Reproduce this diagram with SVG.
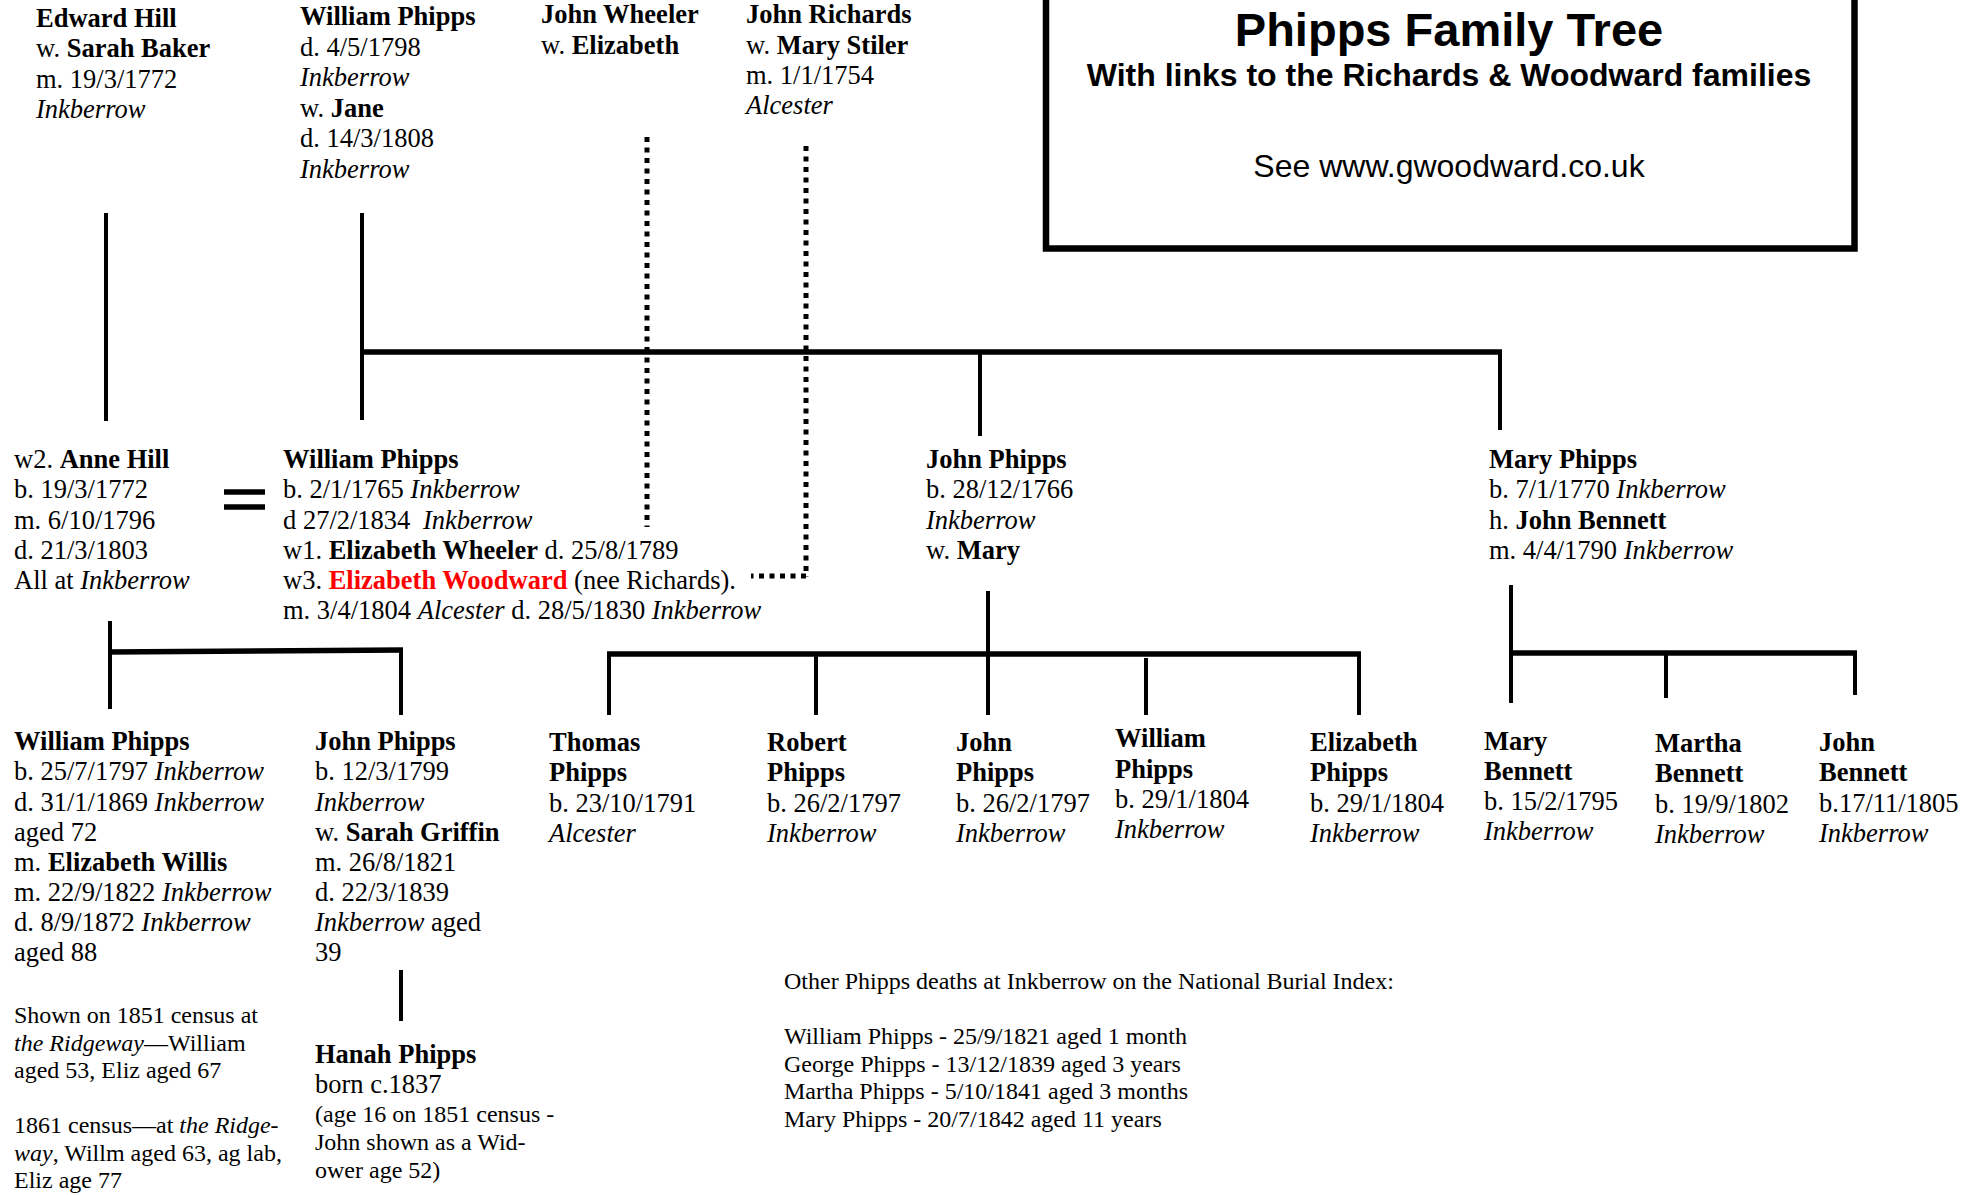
<svg xmlns="http://www.w3.org/2000/svg" width="1961" height="1195" viewBox="0 0 1961 1195">
<style>
text{font-family:"Liberation Serif","Times New Roman",serif;fill:#000}
.t{font-size:26.5px}
.s{font-size:24px}
.b{font-weight:bold}
.i{font-style:italic}
.r{fill:#f00}
.h{font-family:"Liberation Sans",Arial,sans-serif;text-anchor:middle}
.ln{stroke:#000;stroke-width:4;fill:none}
.bar{stroke:#000;stroke-width:5.5;fill:none}
.dot{stroke:#000;stroke-width:5;fill:none;stroke-dasharray:5 5.5}
</style>
<rect width="1961" height="1195" fill="#fff"/>
<g id="title">
<rect x="1046" y="-10" width="808.5" height="258.5" fill="#fff" stroke="#000" stroke-width="6.5"/>
<text class="h b" x="1449" y="46" font-size="47">Phipps Family Tree</text>
<text class="h b" x="1449" y="86" font-size="32">With links to the Richards &amp; Woodward families</text>
<text class="h" x="1449" y="177" font-size="32">See www.gwoodward.co.uk</text>
</g>
<g id="connectors">
<line class="ln" x1="106" y1="213" x2="106" y2="421"/>
<line class="ln" x1="362" y1="213" x2="362" y2="420"/>
<line class="bar" x1="360" y1="352" x2="1502" y2="352"/>
<line class="ln" x1="980" y1="352" x2="980" y2="436"/>
<line class="ln" x1="1500" y1="352" x2="1500" y2="430"/>
<line class="dot" x1="647" y1="137" x2="647" y2="527"/>
<line class="dot" x1="806" y1="146" x2="806" y2="577"/>
<line class="dot" x1="806" y1="576" x2="751" y2="576"/>
<line class="ln" x1="110" y1="621" x2="110" y2="709"/>
<line class="bar" x1="108" y1="652" x2="403" y2="650"/>
<line class="ln" x1="401" y1="650" x2="401" y2="715"/>
<line class="ln" x1="988" y1="591" x2="988" y2="655"/>
<line class="bar" x1="607" y1="654" x2="1361" y2="654"/>
<line class="ln" x1="609" y1="654" x2="609" y2="715"/>
<line class="ln" x1="816" y1="654" x2="816" y2="715"/>
<line class="ln" x1="988" y1="654" x2="988" y2="715"/>
<line class="ln" x1="1146" y1="658" x2="1146" y2="715"/>
<line class="ln" x1="1359" y1="654" x2="1359" y2="715"/>
<line class="ln" x1="1511" y1="585" x2="1511" y2="703"/>
<line class="bar" x1="1509" y1="653" x2="1857" y2="653"/>
<line class="ln" x1="1666" y1="653" x2="1666" y2="698"/>
<line class="ln" x1="1855" y1="653" x2="1855" y2="695"/>
<line class="ln" x1="401" y1="970" x2="401" y2="1021"/>
<line class="bar" x1="224" y1="492" x2="265" y2="492"/>
<line class="bar" x1="224" y1="507" x2="265" y2="507"/>
</g>
<g transform="translate(0,1.5)">
<g id="edward-hill" class="t">
<text x="36" y="25" class="b">Edward Hill</text>
<text x="36" y="55">w. <tspan class="b">Sarah Baker</tspan></text>
<text x="36" y="86">m. 19/3/1772</text>
<text x="36" y="116" class="i">Inkberrow</text>
</g>
<g id="william-phipps-sr" class="t">
<text x="300" y="23" class="b">William Phipps</text>
<text x="300" y="54">d. 4/5/1798</text>
<text x="300" y="84" class="i">Inkberrow</text>
<text x="300" y="115">w. <tspan class="b">Jane</tspan></text>
<text x="300" y="145">d. 14/3/1808</text>
<text x="300" y="176" class="i">Inkberrow</text>
</g>
<g id="john-wheeler" class="t">
<text x="541" y="21" class="b">John Wheeler</text>
<text x="541" y="52">w. <tspan class="b">Elizabeth</tspan></text>
</g>
<g id="john-richards" class="t">
<text x="746" y="21" class="b">John Richards</text>
<text x="746" y="52">w. <tspan class="b">Mary Stiler</tspan></text>
<text x="746" y="82">m. 1/1/1754</text>
<text x="746" y="112" class="i">Alcester</text>
</g>
<g id="anne-hill" class="t">
<text x="14" y="466">w2. <tspan class="b">Anne Hill</tspan></text>
<text x="14" y="496">b. 19/3/1772</text>
<text x="14" y="527">m. 6/10/1796</text>
<text x="14" y="557">d. 21/3/1803</text>
<text x="14" y="587">All at <tspan class="i">Inkberrow</tspan></text>
</g>
<g id="william-phipps" class="t">
<text x="283" y="466" class="b">William Phipps</text>
<text x="283" y="496">b. 2/1/1765 <tspan class="i">Inkberrow</tspan></text>
<text x="283" y="527">d 27/2/1834 <tspan class="i" dx="6">Inkberrow</tspan></text>
<text x="283" y="557">w1. <tspan class="b">Elizabeth Wheeler</tspan> d. 25/8/1789</text>
<text x="283" y="587">w3. <tspan class="b r">Elizabeth Woodward</tspan> (nee Richards).</text>
<text x="283" y="617">m. 3/4/1804 <tspan class="i">Alcester</tspan> d. 28/5/1830 <tspan class="i">Inkberrow</tspan></text>
</g>
<g id="john-phipps-sr" class="t">
<text x="926" y="466" class="b">John Phipps</text>
<text x="926" y="496">b. 28/12/1766</text>
<text x="926" y="527" class="i">Inkberrow</text>
<text x="926" y="557">w. <tspan class="b">Mary</tspan></text>
</g>
<g id="mary-phipps" class="t">
<text x="1489" y="466" class="b">Mary Phipps</text>
<text x="1489" y="496">b. 7/1/1770 <tspan class="i">Inkberrow</tspan></text>
<text x="1489" y="527">h. <tspan class="b">John Bennett</tspan></text>
<text x="1489" y="557">m. 4/4/1790 <tspan class="i">Inkberrow</tspan></text>
</g>
<g id="william-phipps-jr" class="t">
<text x="14" y="748" class="b">William Phipps</text>
<text x="14" y="778">b. 25/7/1797 <tspan class="i">Inkberrow</tspan></text>
<text x="14" y="809">d. 31/1/1869 <tspan class="i">Inkberrow</tspan></text>
<text x="14" y="839">aged 72</text>
<text x="14" y="869">m. <tspan class="b">Elizabeth Willis</tspan></text>
<text x="14" y="899">m. 22/9/1822 <tspan class="i">Inkberrow</tspan></text>
<text x="14" y="929">d. 8/9/1872 <tspan class="i">Inkberrow</tspan></text>
<text x="14" y="959">aged 88</text>
</g>
<g id="census-notes" class="s">
<text x="14" y="1021">Shown on 1851 census at</text>
<text x="14" y="1049"><tspan class="i">the Ridgeway</tspan>—William</text>
<text x="14" y="1076">aged 53, Eliz aged 67</text>
<text x="14" y="1131">1861 census—at <tspan class="i">the Ridge-</tspan></text>
<text x="14" y="1159"><tspan class="i">way</tspan>, Willm aged 63, ag lab,</text>
<text x="14" y="1186">Eliz age 77</text>
</g>
<g id="john-phipps-jr" class="t">
<text x="315" y="748" class="b">John Phipps</text>
<text x="315" y="778">b. 12/3/1799</text>
<text x="315" y="809" class="i">Inkberrow</text>
<text x="315" y="839">w. <tspan class="b">Sarah Griffin</tspan></text>
<text x="315" y="869">m. 26/8/1821</text>
<text x="315" y="899">d. 22/3/1839</text>
<text x="315" y="929"><tspan class="i">Inkberrow</tspan> aged</text>
<text x="315" y="959">39</text>
</g>
<g id="hanah-phipps">
<text x="315" y="1061" class="t b">Hanah Phipps</text>
<text x="315" y="1091" class="t">born c.1837</text>
<text x="315" y="1120" class="s">(age 16 on 1851 census -</text>
<text x="315" y="1148" class="s">John shown as a Wid-</text>
<text x="315" y="1176" class="s">ower age 52)</text>
</g>
<g id="thomas-phipps" class="t">
<text x="549" y="749" class="b">Thomas</text>
<text x="549" y="779" class="b">Phipps</text>
<text x="549" y="810">b. 23/10/1791</text>
<text x="549" y="840" class="i">Alcester</text>
</g>
<g id="robert-phipps" class="t">
<text x="767" y="749" class="b">Robert</text>
<text x="767" y="779" class="b">Phipps</text>
<text x="767" y="810">b. 26/2/1797</text>
<text x="767" y="840" class="i">Inkberrow</text>
</g>
<g id="john-phipps-child" class="t">
<text x="956" y="749" class="b">John</text>
<text x="956" y="779" class="b">Phipps</text>
<text x="956" y="810">b. 26/2/1797</text>
<text x="956" y="840" class="i">Inkberrow</text>
</g>
<g id="william-phipps-child" class="t">
<text x="1115" y="745" class="b">William</text>
<text x="1115" y="776" class="b">Phipps</text>
<text x="1115" y="806">b. 29/1/1804</text>
<text x="1115" y="836" class="i">Inkberrow</text>
</g>
<g id="elizabeth-phipps" class="t">
<text x="1310" y="749" class="b">Elizabeth</text>
<text x="1310" y="779" class="b">Phipps</text>
<text x="1310" y="810">b. 29/1/1804</text>
<text x="1310" y="840" class="i">Inkberrow</text>
</g>
<g id="mary-bennett" class="t">
<text x="1484" y="748" class="b">Mary</text>
<text x="1484" y="778" class="b">Bennett</text>
<text x="1484" y="808">b. 15/2/1795</text>
<text x="1484" y="838" class="i">Inkberrow</text>
</g>
<g id="martha-bennett" class="t">
<text x="1655" y="750" class="b">Martha</text>
<text x="1655" y="780" class="b">Bennett</text>
<text x="1655" y="811">b. 19/9/1802</text>
<text x="1655" y="841" class="i">Inkberrow</text>
</g>
<g id="john-bennett" class="t">
<text x="1819" y="749" class="b">John</text>
<text x="1819" y="779" class="b">Bennett</text>
<text x="1819" y="810">b.17/11/1805</text>
<text x="1819" y="840" class="i">Inkberrow</text>
</g>
<g id="burial-index" class="s">
<text x="784" y="987">Other Phipps deaths at Inkberrow on the National Burial Index:</text>
<text x="784" y="1042">William Phipps - 25/9/1821 aged 1 month</text>
<text x="784" y="1070">George Phipps - 13/12/1839 aged 3 years</text>
<text x="784" y="1097">Martha Phipps - 5/10/1841 aged 3 months</text>
<text x="784" y="1125">Mary Phipps - 20/7/1842 aged 11 years</text>
</g>
</g>
</svg>
